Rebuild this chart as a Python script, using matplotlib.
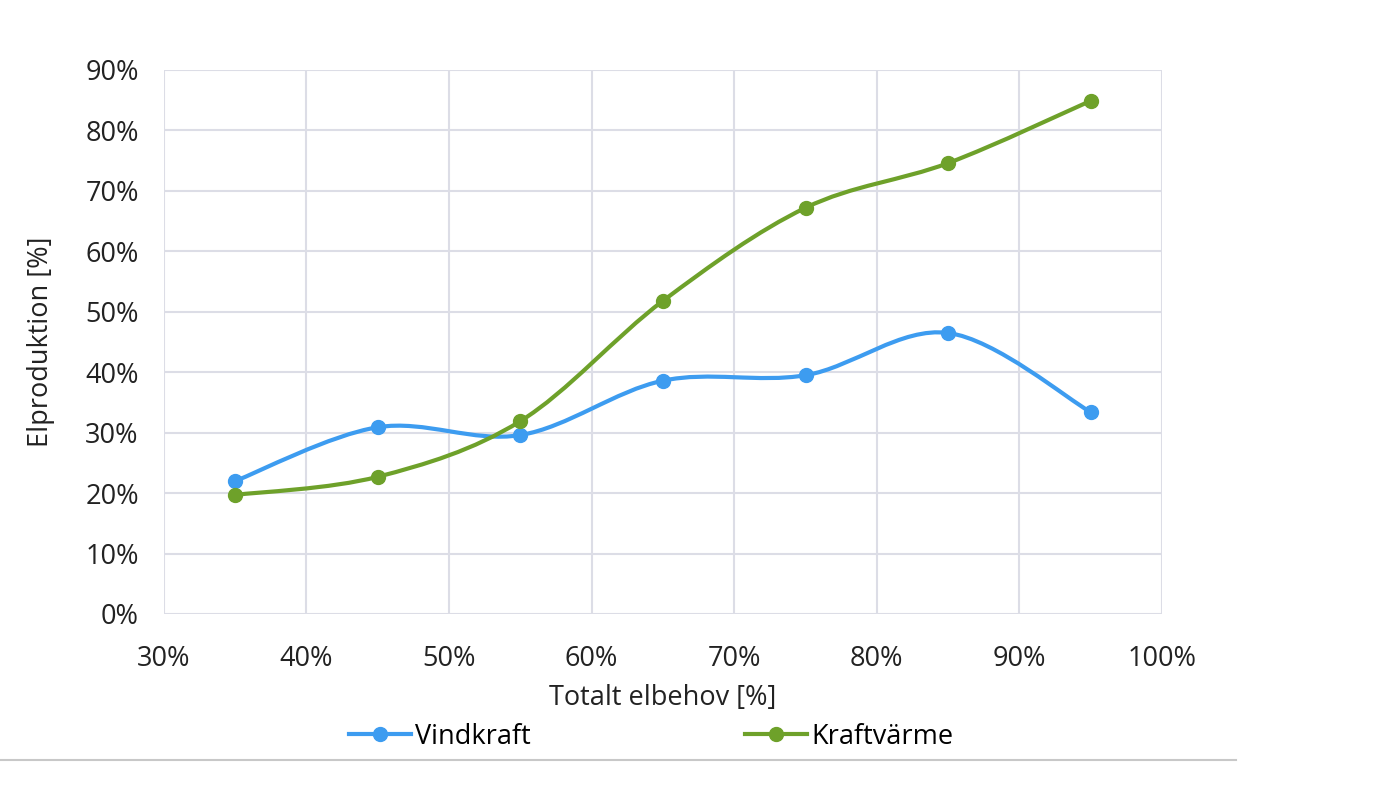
import numpy as np
import matplotlib.pyplot as plt
from matplotlib.path import Path
from matplotlib.patches import PathPatch
from matplotlib.lines import Line2D
from matplotlib.ticker import FuncFormatter

# data (percent)
elbehov = [35, 45, 55, 65, 75, 85, 95]
vindkraft = [22.0, 30.9, 29.6, 38.6, 39.5, 46.5, 33.4]
kraftvarme = [19.7, 22.7, 31.9, 51.8, 67.2, 74.6, 84.9]

blue = '#3d9cf0'
green = '#6ea12a'

plt.rcParams['font.family'] = ['Open Sans', 'DejaVu Sans']


# smooth bezier path through the points, like excel's smoothed line
def smoothPath(xs, ys, k=1/6):
    pts = list(zip(xs, ys))
    verts = [pts[0]]
    codes = [Path.MOVETO]
    n = len(pts)
    for i in range(n - 1):
        p0 = pts[i - 1] if i > 0 else pts[i]
        p1 = pts[i]
        p2 = pts[i + 1]
        p3 = pts[i + 2] if i + 2 < n else pts[i + 1]
        c1 = (p1[0] + (p2[0] - p0[0]) * k, p1[1] + (p2[1] - p0[1]) * k)
        c2 = (p2[0] - (p3[0] - p1[0]) * k, p2[1] - (p3[1] - p1[1]) * k)
        verts += [c1, c2, p2]
        codes += [Path.CURVE4] * 3
    return Path(verts, codes)


fig = plt.figure(figsize=(14, 8), dpi=100)
ax = fig.add_axes([0.117, 0.2325, 0.713, 0.68])

for ys, col in [(vindkraft, blue), (kraftvarme, green)]:
    ax.add_patch(PathPatch(smoothPath(elbehov, ys), facecolor='none',
                           edgecolor=col, lw=3, capstyle='round', zorder=3))
    ax.plot(elbehov, ys, 'o', color=col, markersize=10, zorder=4)

ax.set_xlim(30, 100)
ax.set_ylim(0, 90)
ax.set_xticks(range(30, 101, 10))
ax.set_yticks(range(0, 91, 10))
pct = FuncFormatter(lambda v, p: '%d%%' % v)
ax.xaxis.set_major_formatter(pct)
ax.yaxis.set_major_formatter(pct)
ax.tick_params(length=0, labelsize=19.5, colors='#222222')
ax.tick_params(axis='x', pad=22)
ax.tick_params(axis='y', pad=18)
ax.grid(True, color='#dcdde6', lw=1.5)
ax.set_axisbelow(True)
for s in ax.spines.values():
    s.set_visible(False)

ax.set_xlabel('Totalt elbehov [%]', fontsize=19.5, color='#222222', labelpad=8)
ax.set_ylabel('Elproduktion [%]', fontsize=19.5, color='#222222', labelpad=22)

handles = [Line2D([], [], color=blue, lw=3, marker='o', markersize=10),
           Line2D([], [], color=green, lw=3, marker='o', markersize=10)]
fig.legend(handles, ['Vindkraft', 'Kraftvärme'], loc='center',
           bbox_to_anchor=(0.465, 0.079), ncol=2, frameon=False, fontsize=19.5,
           handlelength=2.3, handletextpad=0.15, columnspacing=7.9)

fig.add_artist(Line2D([0, 0.883], [0.05, 0.05], color='#c8c8c8', lw=1.5))

fig.savefig('out.png')
